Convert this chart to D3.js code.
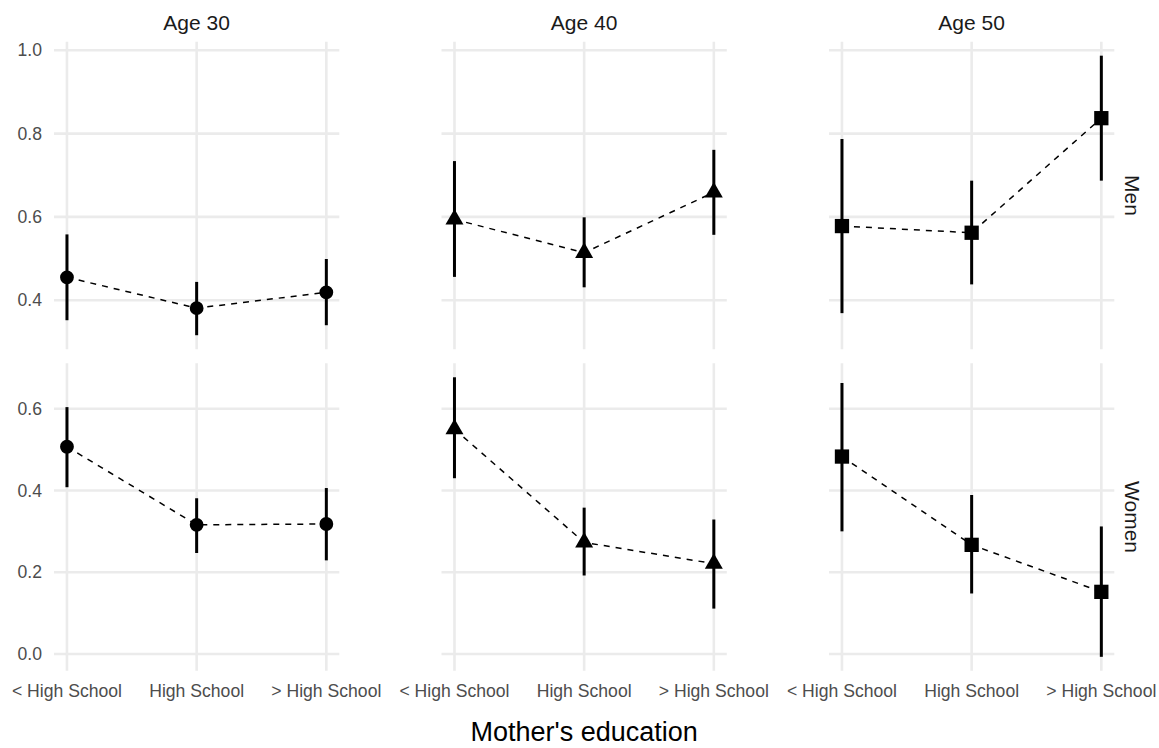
<!DOCTYPE html>
<html>
<head>
<meta charset="utf-8">
<script src="https://cdn.jsdelivr.net/npm/d3@7"></script>
<style>
  body { margin: 0; background: #fff; }
  svg text { font-family: "Liberation Sans", Arial, sans-serif; }
  .grid line { stroke: #ebebeb; stroke-width: 2.6; }
  .tick-label { fill: #4d4d4d; font-size: 17.6px; }
  .strip { fill: #1a1a1a; font-size: 21px; }
  .title { fill: #000; font-size: 27px; }
  .range { stroke: #000; stroke-width: 3; }
  .link { fill: none; stroke: #000; stroke-width: 1.5; stroke-dasharray: 6,6; }
</style>
</head>
<body>
<div id="chart"></div>
<script>
const ages = ['Age 30', 'Age 40', 'Age 50'];
const sexes = ['Men', 'Women'];
const education = ['< High School', 'High School', '> High School'];

// one inner array per age, one value per education level
const menEstimate = [[0.455, 0.381, 0.419], [0.594, 0.514, 0.659], [0.578, 0.562, 0.837]];
const menLower    = [[0.352, 0.316, 0.340], [0.456, 0.431, 0.557], [0.369, 0.438, 0.687]];
const menUpper    = [[0.558, 0.444, 0.499], [0.734, 0.599, 0.761], [0.787, 0.687, 0.987]];

const womenEstimate = [[0.507, 0.316, 0.318], [0.550, 0.273, 0.221], [0.483, 0.267, 0.152]];
const womenLower    = [[0.408, 0.247, 0.229], [0.430, 0.192, 0.111], [0.300, 0.148, -0.007]];
const womenUpper    = [[0.604, 0.381, 0.406], [0.677, 0.358, 0.329], [0.663, 0.389, 0.312]];

const menTicks = [0.4, 0.6, 0.8, 1.0];
const womenTicks = [0.0, 0.2, 0.4, 0.6];

const width = 1159, height = 748;

// panel layout (facet grid: columns = age, rows = sex)
const colLeft = [54, 441.5, 829];
const panelWidth = 285.3;
const rowTop = [41.7, 363.3];
const panelHeight = 307.5;

const rows = [
  { name: sexes[0], est: menEstimate, lo: menLower, hi: menUpper, ticks: menTicks },
  { name: sexes[1], est: womenEstimate, lo: womenLower, hi: womenUpper, ticks: womenTicks }
];

// one marker per age, as in the original
const symbols = [
  d3.symbol().type(d3.symbolCircle).size(150),
  d3.symbol().type(d3.symbolTriangle).size(140),
  d3.symbol().type(d3.symbolSquare).size(204)
];

const svg = d3.select('#chart').append('svg')
  .attr('width', width)
  .attr('height', height);

rows.forEach((row, r) => {
  // free y scale per row, with 5% expansion on the data range
  const ext = d3.extent(row.lo.flat().concat(row.hi.flat()));
  const pad = (ext[1] - ext[0]) * 0.05;
  const y = d3.scaleLinear()
    .domain([ext[0] - pad, ext[1] + pad])
    .range([rowTop[r] + panelHeight, rowTop[r]]);

  // y labels, left side only
  svg.append('g').selectAll('text')
    .data(row.ticks)
    .enter().append('text')
    .attr('class', 'tick-label')
    .attr('x', colLeft[0] - 12)
    .attr('y', d => y(d))
    .attr('dy', '0.35em')
    .attr('text-anchor', 'end')
    .text(d3.format('.1f'));

  // row strip label
  svg.append('text')
    .attr('class', 'strip')
    .attr('transform', `translate(1124.5, ${rowTop[r] + panelHeight / 2}) rotate(90)`)
    .attr('text-anchor', 'middle')
    .text(row.name);

  ages.forEach((age, c) => {
    const x = d3.scalePoint()
      .domain(education)
      .range([colLeft[c], colLeft[c] + panelWidth])
      .padding(0.1);

    const panel = svg.append('g');

    // grid
    const grid = panel.append('g').attr('class', 'grid');
    grid.selectAll('.h')
      .data(row.ticks)
      .enter().append('line')
      .attr('x1', colLeft[c]).attr('x2', colLeft[c] + panelWidth)
      .attr('y1', d => y(d)).attr('y2', d => y(d));
    grid.selectAll('.v')
      .data(education)
      .enter().append('line')
      .attr('x1', d => x(d)).attr('x2', d => x(d))
      .attr('y1', rowTop[r]).attr('y2', rowTop[r] + panelHeight);

    const pts = education.map((e, i) => ({
      e: e, est: row.est[c][i], lo: row.lo[c][i], hi: row.hi[c][i]
    }));

    // dashed line through estimates
    const line = d3.line()
      .x(d => x(d.e))
      .y(d => y(d.est));
    panel.append('path')
      .datum(pts)
      .attr('class', 'link')
      .attr('d', line);

    // intervals
    panel.selectAll('.range')
      .data(pts)
      .enter().append('line')
      .attr('class', 'range')
      .attr('x1', d => x(d.e)).attr('x2', d => x(d.e))
      .attr('y1', d => y(d.lo)).attr('y2', d => y(d.hi));

    // markers
    panel.selectAll('.pt')
      .data(pts)
      .enter().append('path')
      .attr('transform', d => `translate(${x(d.e)},${y(d.est)})`)
      .attr('d', symbols[c])
      .attr('fill', '#000');

    // column strip on the top row, x labels on the bottom row
    if (r === 0) {
      svg.append('text')
        .attr('class', 'strip')
        .attr('x', colLeft[c] + panelWidth / 2)
        .attr('y', 29.5)
        .attr('text-anchor', 'middle')
        .text(age);
    } else {
      svg.append('g').selectAll('text')
        .data(education)
        .enter().append('text')
        .attr('class', 'tick-label')
        .attr('x', d => x(d))
        .attr('y', 697)
        .attr('text-anchor', 'middle')
        .text(d => d);
    }
  });
});

// x axis title
svg.append('text')
  .attr('class', 'title')
  .attr('x', colLeft[0] + (colLeft[2] + panelWidth - colLeft[0]) / 2)
  .attr('y', 741)
  .attr('text-anchor', 'middle')
  .text("Mother's education");
</script>
</body>
</html>
